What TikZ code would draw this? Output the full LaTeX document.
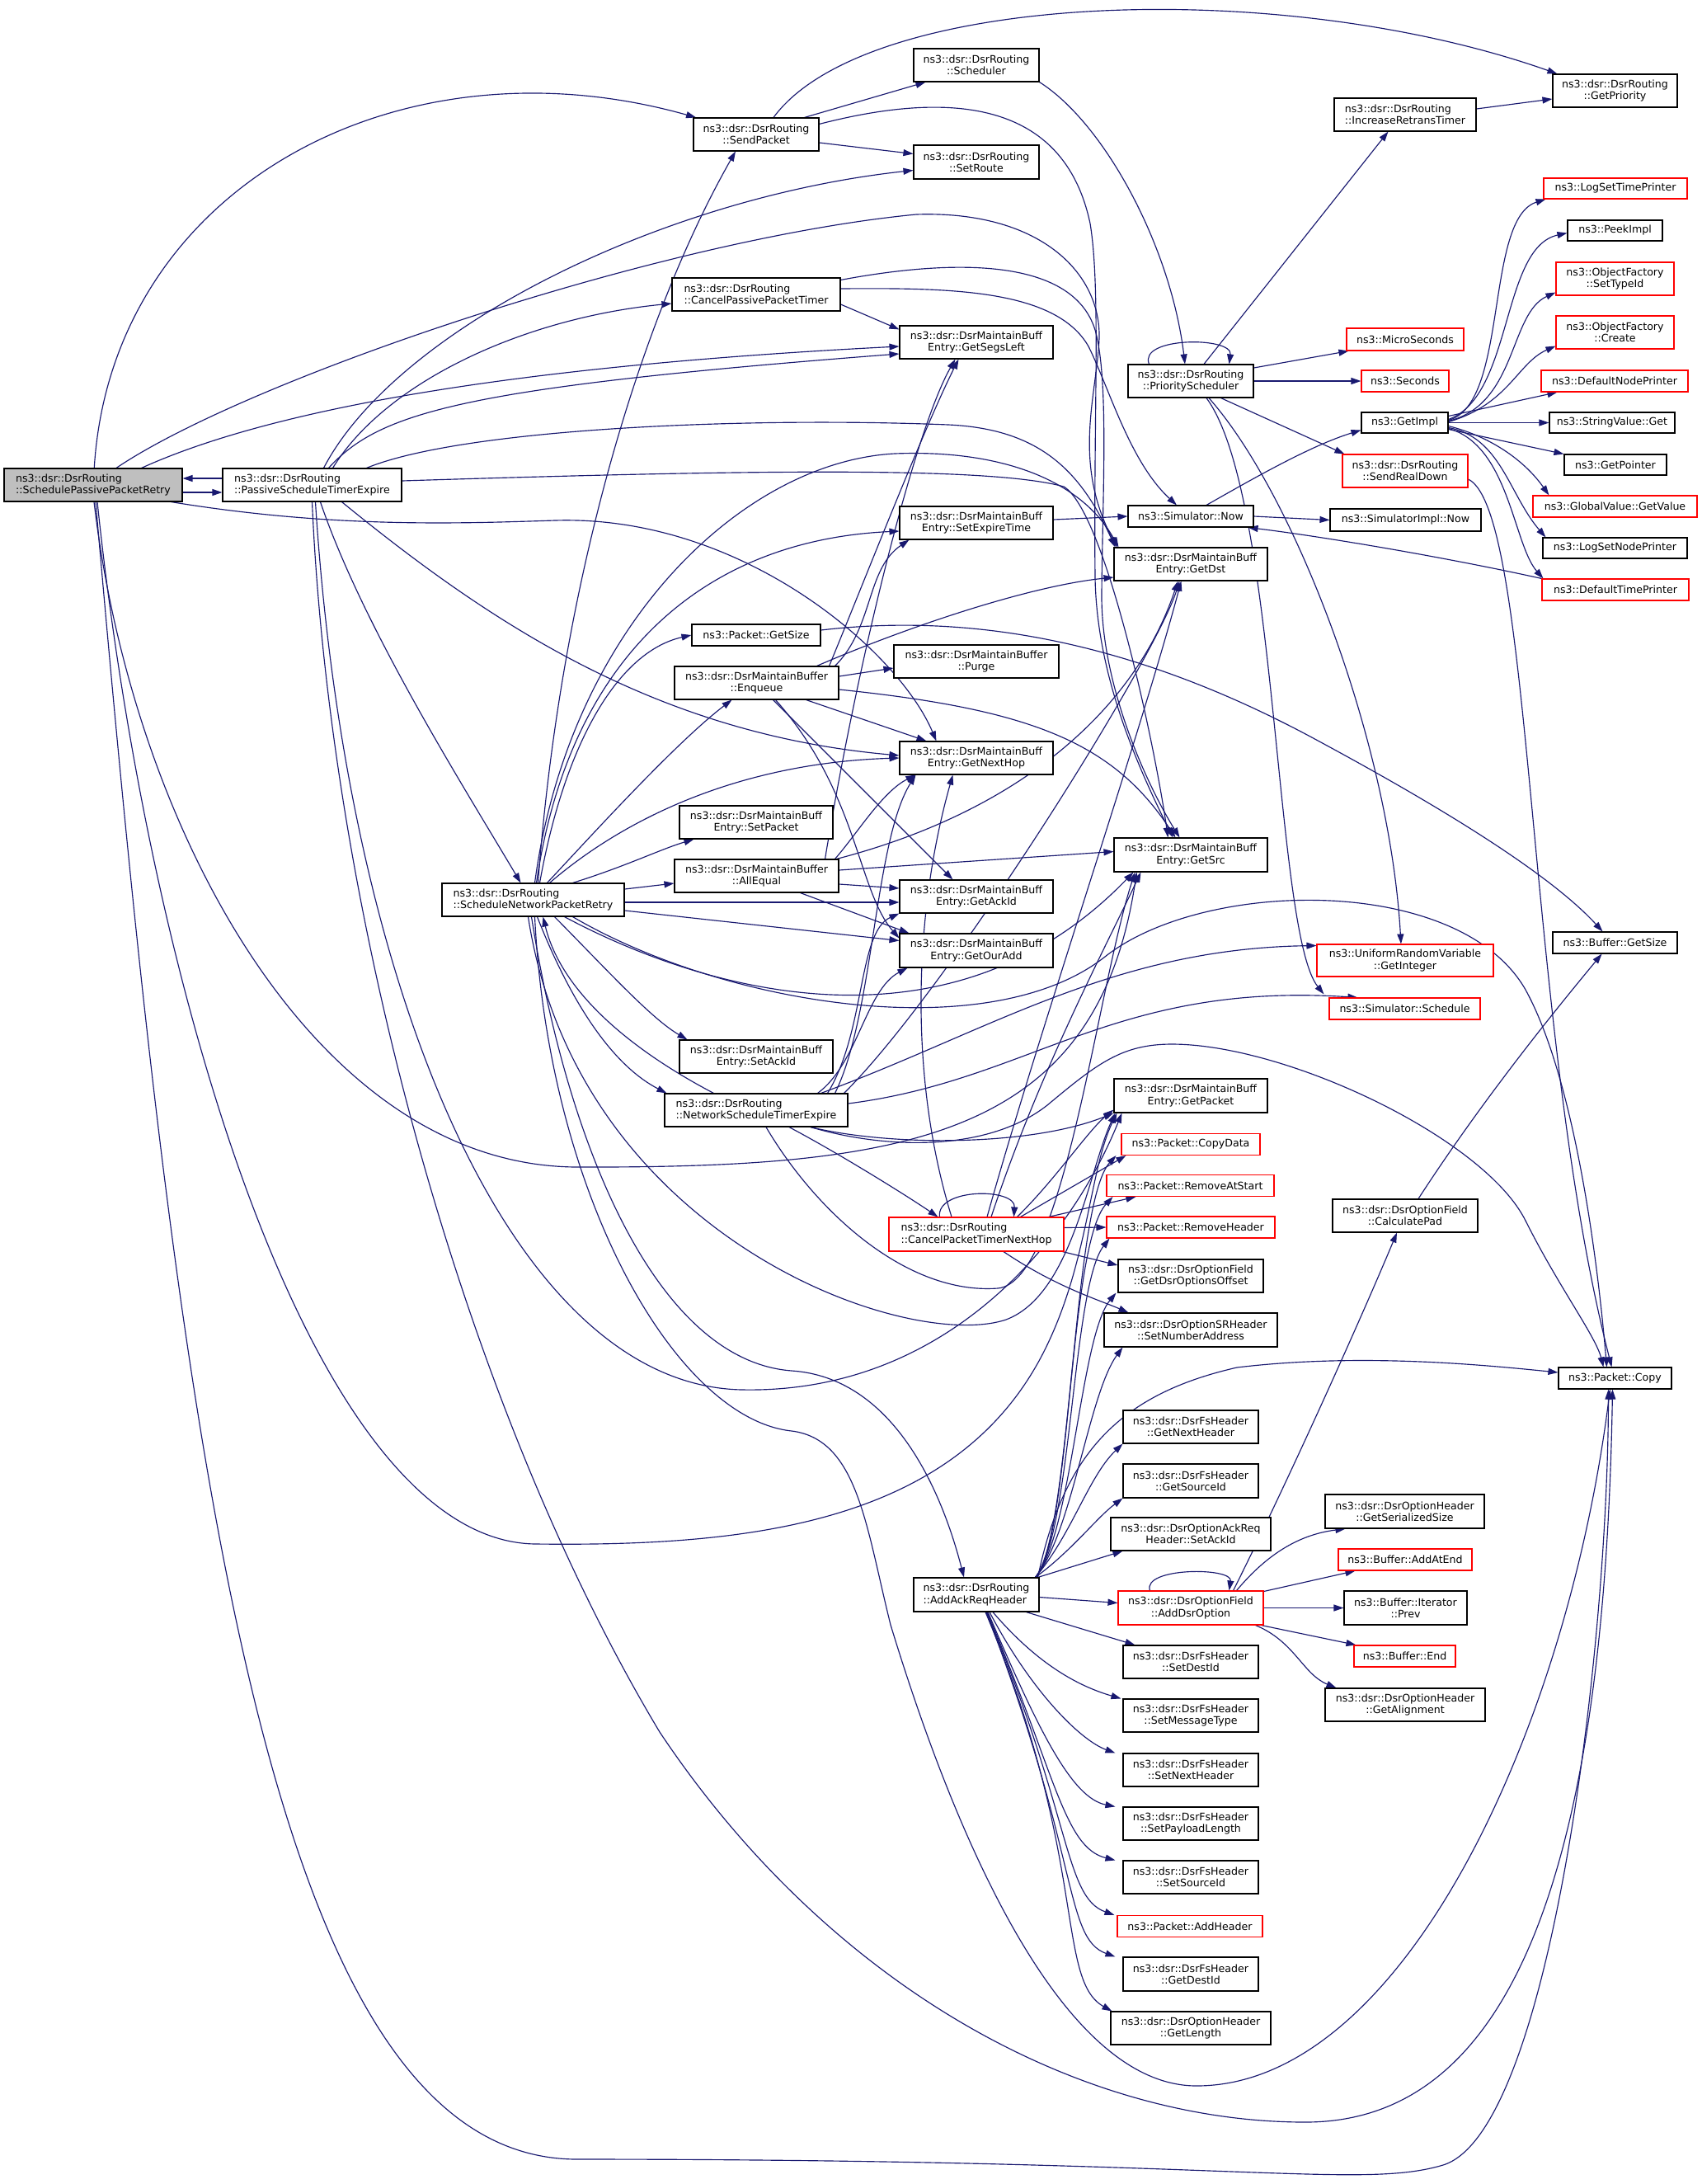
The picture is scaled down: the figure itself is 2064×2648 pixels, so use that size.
\documentclass[tikz,border=0pt]{standalone}
\usepackage{fontspec}
\setmainfont{DejaVu Sans}
\usetikzlibrary{arrows.meta,calc}
\pgfdeclarelayer{back}
\pgfdeclarelayer{bg}
\pgfsetlayers{back,bg,main}
\definecolor{edgec}{HTML}{191970}
\definecolor{rootc}{HTML}{BFBFBF}
\tikzset{
  box/.style={draw=black, line width=1.1pt, fill=white, inner sep=1pt, font=\fontsize{12.6}{14.3}\selectfont, align=center},
  rbox/.style={box, draw=red},
  lbox/.style={box, align=left},
  s/.style 2 args={minimum width=#1pt, minimum height=#2pt},
  e/.style={draw=edgec, line width=1.15pt, -{Triangle[length=12pt,width=8pt]}},
}
\begin{document}
\begin{tikzpicture}[x=1pt,y=-1pt]
\begin{pgfonlayer}{back}
\fill[white] (0,0) rectangle (2064,2648);
\end{pgfonlayer}
\useasboundingbox (0,0) rectangle (2064,2648);
% ---------------- nodes ----------------
\node[lbox,fill=rootc,s={216}{40}] (A) at (113,588) {ns3::dsr::DsrRouting\\::SchedulePassivePacketRetry};
\node[lbox,s={217}{40}] (B) at (378.5,588) {ns3::dsr::DsrRouting\\::PassiveScheduleTimerExpire};
\node[lbox,s={221}{40}] (C) at (646.5,1091) {ns3::dsr::DsrRouting\\::ScheduleNetworkPacketRetry};
\node[box,s={152}{40}] (sp) at (917,163) {ns3::dsr::DsrRouting\\::SendPacket};
\node[lbox,s={204}{40}] (cppt) at (917,357) {ns3::dsr::DsrRouting\\::CancelPassivePacketTimer};
\node[box,s={156}{26}] (pgs) at (917,770) {ns3::Packet::GetSize};
\node[box,s={199}{40}] (enq) at (917.5,828) {ns3::dsr::DsrMaintainBuffer\\::Enqueue};
\node[box,s={186}{40}] (setpkt) at (917,997) {ns3::dsr::DsrMaintainBuff\\Entry::SetPacket};
\node[box,s={199}{40}] (alleq) at (917.5,1062) {ns3::dsr::DsrMaintainBuffer\\::AllEqual};
\node[box,s={186}{40}] (setack) at (917,1281) {ns3::dsr::DsrMaintainBuff\\Entry::SetAckId};
\node[lbox,s={222}{40}] (nste) at (917,1346) {ns3::dsr::DsrRouting\\::NetworkScheduleTimerExpire};
\node[box,s={152}{40}] (sched) at (1184,79) {ns3::dsr::DsrRouting\\::Scheduler};
\node[box,s={152}{41}] (setroute) at (1184,196.5) {ns3::dsr::DsrRouting\\::SetRoute};
\node[box,s={186}{40}] (segs) at (1184,415) {ns3::dsr::DsrMaintainBuff\\Entry::GetSegsLeft};
\node[box,s={186}{40}] (setexp) at (1184,634) {ns3::dsr::DsrMaintainBuff\\Entry::SetExpireTime};
\node[box,s={200}{40}] (purge) at (1184,802) {ns3::dsr::DsrMaintainBuffer\\::Purge};
\node[box,s={186}{40}] (nexthop) at (1184,919) {ns3::dsr::DsrMaintainBuff\\Entry::GetNextHop};
\node[box,s={186}{40}] (getack) at (1184,1087) {ns3::dsr::DsrMaintainBuff\\Entry::GetAckId};
\node[box,s={186}{41}] (ouradd) at (1184,1152.5) {ns3::dsr::DsrMaintainBuff\\Entry::GetOurAdd};
\node[rbox,align=left,s={212}{41}] (cptnh) at (1184,1496.5) {ns3::dsr::DsrRouting\\::CancelPacketTimerNextHop};
\node[lbox,s={152}{41}] (aarh) at (1184,1933.5) {ns3::dsr::DsrRouting\\::AddAckReqHeader};
\node[box,s={152}{40}] (prio) at (1444,462) {ns3::dsr::DsrRouting\\::PriorityScheduler};
\node[box,s={152}{26}] (simnow) at (1444,626) {ns3::Simulator::Now};
\node[box,s={186}{40}] (getdst) at (1444,684) {ns3::dsr::DsrMaintainBuff\\Entry::GetDst};
\node[box,s={186}{41}] (getsrc) at (1444,1036.5) {ns3::dsr::DsrMaintainBuff\\Entry::GetSrc};
\node[box,s={186}{41}] (getpkt) at (1444,1328.5) {ns3::dsr::DsrMaintainBuff\\Entry::GetPacket};
\node[rbox,s={168}{26}] (copydata) at (1444,1387.5) {ns3::Packet::CopyData};
\node[rbox,s={203}{26}] (rmstart) at (1443.5,1437.5) {ns3::Packet::RemoveAtStart};
\node[rbox,s={204}{26}] (rmhdr) at (1444,1488) {ns3::Packet::RemoveHeader};
\node[box,s={176}{40}] (optoff) at (1444,1547) {ns3::dsr::DsrOptionField\\::GetDsrOptionsOffset};
\node[box,s={210}{41}] (setnum) at (1444,1612.5) {ns3::dsr::DsrOptionSRHeader\\::SetNumberAddress};
\node[box,s={164}{40}] (getnh) at (1444,1730) {ns3::dsr::DsrFsHeader\\::GetNextHeader};
\node[box,s={164}{41}] (getsid) at (1444,1795.5) {ns3::dsr::DsrFsHeader\\::GetSourceId};
\node[box,s={194}{40}] (arsetack) at (1444,1860) {ns3::dsr::DsrOptionAckReq\\Header::SetAckId};
\node[rbox,s={176}{41}] (adddsr) at (1444,1949.5) {ns3::dsr::DsrOptionField\\::AddDsrOption};
\node[box,s={164}{40}] (setdid) at (1444,2015) {ns3::dsr::DsrFsHeader\\::SetDestId};
\node[box,s={164}{40}] (setmt) at (1444,2080) {ns3::dsr::DsrFsHeader\\::SetMessageType};
\node[box,s={164}{40}] (setnh) at (1444,2146) {ns3::dsr::DsrFsHeader\\::SetNextHeader};
\node[box,s={164}{40}] (setpl) at (1444,2211) {ns3::dsr::DsrFsHeader\\::SetPayloadLength};
\node[box,s={164}{40}] (setsid) at (1444,2276) {ns3::dsr::DsrFsHeader\\::SetSourceId};
\node[rbox,s={176}{26}] (addhdr) at (1443,2335.5) {ns3::Packet::AddHeader};
\node[box,s={164}{41}] (getdid) at (1444,2393.5) {ns3::dsr::DsrFsHeader\\::GetDestId};
\node[box,s={194}{40}] (getlen) at (1444,2459) {ns3::dsr::DsrOptionHeader\\::GetLength};
\node[lbox,s={172}{40}] (incr) at (1704,139) {ns3::dsr::DsrRouting\\::IncreaseRetransTimer};
\node[rbox,s={142}{27}] (micro) at (1704,411.5) {ns3::MicroSeconds};
\node[rbox,s={106}{26}] (secs) at (1704,462) {ns3::Seconds};
\node[box,s={105}{25}] (getimpl) at (1703.5,512.5) {ns3::GetImpl};
\node[rbox,s={152}{40}] (srd) at (1704,571) {ns3::dsr::DsrRouting\\::SendRealDown};
\node[box,s={183}{27}] (simimplnow) at (1704.5,630.5) {ns3::SimulatorImpl::Now};
\node[rbox,s={214}{39}] (getint) at (1704,1164.5) {ns3::UniformRandomVariable\\::GetInteger};
\node[rbox,s={183}{26}] (simsched) at (1703.5,1223) {ns3::Simulator::Schedule};
\node[box,s={176}{40}] (calcpad) at (1704,1474) {ns3::dsr::DsrOptionField\\::CalculatePad};
\node[box,s={193}{41}] (getser) at (1703.5,1832.5) {ns3::dsr::DsrOptionHeader\\::GetSerializedSize};
\node[rbox,s={162}{26}] (addatend) at (1704,1891) {ns3::Buffer::AddAtEnd};
\node[box,s={149}{41}] (prev) at (1704.5,1949.5) {ns3::Buffer::Iterator\\::Prev};
\node[rbox,s={123}{26}] (bufend) at (1703.5,2008) {ns3::Buffer::End};
\node[box,s={194}{40}] (getalign) at (1704,2067) {ns3::dsr::DsrOptionHeader\\::GetAlignment};
\node[box,s={151}{40}] (getprio) at (1958.5,110) {ns3::dsr::DsrRouting\\::GetPriority};
\node[rbox,s={174}{25}] (lstp) at (1959,228.5) {ns3::LogSetTimePrinter};
\node[box,s={115}{25}] (peek) at (1958.5,279.5) {ns3::PeekImpl};
\node[rbox,s={143}{40}] (settid) at (1958.5,338) {ns3::ObjectFactory\\::SetTypeId};
\node[rbox,s={143}{40}] (create) at (1958.5,403) {ns3::ObjectFactory\\::Create};
\node[rbox,s={178}{26}] (dnp) at (1958,462) {ns3::DefaultNodePrinter};
\node[box,s={152}{25}] (svget) at (1955,512.5) {ns3::StringValue::Get};
\node[box,s={124}{25}] (getptr) at (1959,563.5) {ns3::GetPointer};
\node[rbox,s={199}{26}] (gvget) at (1958.5,614) {ns3::GlobalValue::GetValue};
\node[box,s={175}{25}] (lsnp) at (1958.5,664.5) {ns3::LogSetNodePrinter};
\node[rbox,s={178}{26}] (dtp) at (1959,715) {ns3::DefaultTimePrinter};
\node[box,s={151}{26}] (bufgs) at (1958.5,1143) {ns3::Buffer::GetSize};
\node[box,s={137}{26}] (copy) at (1958.5,1671) {ns3::Packet::Copy};
% ---------------- edges ----------------
\begin{pgfonlayer}{bg}
% SchedulePassivePacketRetry
\draw[e] (A) .. controls (135,230) and (480,40) .. (sp);
\draw[e] ([yshift=-9pt]A.east) -- ([yshift=-9pt]B.west);
\draw[e] ([yshift=8pt]B.west) -- ([yshift=8pt]A.east);
\draw[e] ([xshift=28pt]A.north) .. controls (300,460) and (800,290) .. (1111,260) .. controls (1260,255) and (1335,330) .. (1333,410) .. controls (1330,480) and (1300,560) .. ($(getdst.north west)+(4,0)$);
\draw[e] ([xshift=-50pt]A.north east) .. controls (320,500) and (600,445) .. ([yshift=-5pt]segs.west);
\draw[e] ([xshift=-14pt]A.south east) .. controls (400,640) and (550,635) .. (673,631) .. controls (900,624) and (1090,790) .. ($(nexthop.north west)+(45,0)$);
\draw[e] ([xshift=3pt]A.south) .. controls (220,1800) and (330,2618) .. (700,2618) .. controls (1500,2618) and (1650,2655) .. (1750,2625) .. controls (1880,2585) and (1950,2000) .. ([xshift=-8pt]copy.south);
\draw[e] ([xshift=5pt]A.south) .. controls (180,1200) and (380,1870) .. (650,1872) .. controls (900,1875) and (1150,1850) .. (1260,1650) .. controls (1320,1540) and (1320,1420) .. ($(getpkt.south west)+(4,0)$);
\draw[e] ([xshift=1pt]A.south) .. controls (160,1000) and (380,1414) .. (700,1415) .. controls (1100,1416) and (1330,1380) .. ($(getsrc.south west)+(28,0)$);
% PassiveScheduleTimerExpire
\draw[e] ([xshift=14pt]B.north) .. controls (480,400) and (800,240) .. ([yshift=-10pt]setroute.west);
\draw[e] ([xshift=25pt]B.north) .. controls (470,460) and (640,385) .. ([yshift=-11pt]cppt.west);
\draw[e] ([xshift=20pt]B.north) .. controls (460,500) and (560,470) .. ([yshift=-14pt]segs.west);
\draw[e] ([xshift=66pt]B.north) .. controls (560,520) and (900,505) .. (1150,515) .. controls (1260,520) and (1310,570) .. ($(getdst.north west)+(2,0)$);
\draw[e] ([yshift=5pt]B.east) .. controls (900,570) and (1200,565) .. (1290,590) .. controls (1340,620) and (1400,900) .. ($(getsrc.north west)+(66,0)$);
\draw[e] ([xshift=36pt]B.south) .. controls (600,760) and (800,890) .. ([yshift=3pt]nexthop.west);
\draw[e] ([xshift=10pt]B.south) .. controls (440,760) and (560,950) .. ([xshift=-15pt]C.north);
\draw[e] (B.south) .. controls (400,1100) and (560,1700) .. (800,2100) .. controls (1000,2400) and (1300,2573) .. (1583,2573) .. controls (1820,2573) and (1945,2300) .. ([xshift=-3pt]copy.south);
\draw[e] ([xshift=4pt]B.south) .. controls (420,1200) and (620,1680) .. (900,1685) .. controls (1150,1690) and (1300,1500) .. ($(getpkt.south west)+(10,0)$);
% ScheduleNetworkPacketRetry
\draw[e] ([xshift=6pt]C.north) .. controls (680,700) and (780,380) .. ([xshift=-25pt]sp.south);
\draw[e] ([xshift=8pt]C.north) .. controls (685,900) and (750,790) .. (pgs.west);
\draw[e] ([xshift=17pt]C.north) .. controls (720,1010) and (820,900) .. ([xshift=-30pt]enq.south);
\draw[e] ([xshift=20pt]C.north) .. controls (760,990) and (900,925) .. (nexthop.west);
\draw[e] ([xshift=48pt]C.north) .. controls (760,1050) and (800,1030) .. ($(setpkt.south west)+(18,0)$);
\draw[e] ([yshift=13pt]C.east) -- ([yshift=-9pt]alleq.west);
\draw[e] ([yshift=-3pt]C.east) -- ([yshift=-7pt]getack.west);
\draw[e] ([yshift=-13pt]C.east) -- ([yshift=12pt]ouradd.west);
\draw[e] ([xshift=26pt]C.south) .. controls (740,1180) and (790,1235) .. ($(setack.north west)+(10,0)$);
\draw[e] ([xshift=5pt]C.south) .. controls (690,1210) and (740,1290) .. ($(nste.north west)+(3,0)$);
\draw[e] ([xshift=4pt]C.north) .. controls (690,800) and (850,655) .. ([yshift=-10pt]setexp.west);
\draw[e] ([xshift=2pt]C.north) .. controls (690,760) and (900,560) .. (1085,550) .. controls (1210,545) and (1310,580) .. ($(getdst.north west)+(6,0)$);
\draw[e] ([xshift=38pt]C.south) .. controls (850,1200) and (1150,1290) .. ($(getsrc.south west)+(24,0)$);
\draw[e] ([xshift=48pt]C.south) .. controls (880,1220) and (1200,1270) .. (1340,1160) .. controls (1460,1065) and (1770,1060) .. (1850,1200) .. controls (1905,1300) and (1935,1500) .. ([xshift=-10pt]copy.north);
\draw[e] ([xshift=2pt]C.south) .. controls (665,1450) and (820,1720) .. (960,1735) .. controls (1040,1745) and (1050,1850) .. (1080,1970) .. controls (1150,2200) and (1280,2529) .. (1451,2529) .. controls (1700,2529) and (1900,2100) .. ([xshift=-6pt]copy.south);
\draw[e] ([xshift=-2pt]C.south) .. controls (690,1400) and (800,1650) .. (960,1662) .. controls (1080,1670) and (1140,1800) .. ([xshift=-15pt]aarh.north);
\draw[e] ([xshift=-6pt]C.south) .. controls (700,1500) and (1100,1640) .. (1220,1600) .. controls (1300,1570) and (1320,1420) .. ($(getpkt.south west)+(2,0)$);
% NetworkScheduleTimerExpire
\draw[e] ($(nste.north west)+(60,0)$) .. controls (760,1270) and (680,1200) .. ([xshift=12pt]C.south);
\draw[e] ([xshift=40pt]nste.south) .. controls (1020,1400) and (1100,1450) .. ($(cptnh.north west)+(60,0)$);
\draw[e] ([xshift=66pt]nste.south) .. controls (1080,1390) and (1250,1390) .. (getpkt.south west);
\draw[e] ([xshift=66pt]nste.south) .. controls (1080,1395) and (1200,1395) .. (1270,1340) .. controls (1330,1290) and (1360,1266) .. (1421,1266) .. controls (1560,1266) and (1800,1380) .. (1850,1480) .. controls (1890,1560) and (1935,1620) .. ([xshift=-14pt]copy.north);
\draw[e] ($(nste.north east)+(-33,0)$) .. controls (1200,1250) and (1350,1150) .. ([yshift=18pt]getint.west);
\draw[e] ([yshift=8pt]nste.east) .. controls (1250,1310) and (1350,1190) .. ($(simsched.north west)+(35,0)$);
\draw[e] ([xshift=-16pt]nste.north east) .. controls (1060,1230) and (1060,1020) .. ($(nexthop.south west)+(20,0)$);
\draw[e] ([xshift=-37pt]nste.north east) .. controls (1040,1290) and (1050,1200) .. ($(ouradd.south west)+(10,0)$);
\draw[e] ([xshift=-25pt]nste.north east) .. controls (1050,1250) and (1040,1130) .. (getack.south west);
\draw[e] ([xshift=12pt]nste.south) .. controls (990,1470) and (1100,1570) .. (1210,1562) .. controls (1290,1555) and (1330,1200) .. ($(getsrc.south west)+(26,0)$);
\draw[e] ([xshift=-5pt]nste.north east) .. controls (1150,1200) and (1400,800) .. ($(getdst.south west)+(80,0)$);
% CancelPacketTimerNextHop
\draw[e] ($(cptnh.north west)+(62,0)$) .. controls (1135,1440) and (1232,1440) .. ($(cptnh.north west)+(152,0)$);
\draw[e] ($(cptnh.north west)+(156,0)$) .. controls (1280,1430) and (1320,1370) .. ([yshift=4pt]getpkt.south west);
\draw[e] ($(cptnh.north west)+(160,0)$) -- ($(copydata.south west)+(6,0)$);
\draw[e] ($(cptnh.north east)+(-19,0)$) -- ($(rmstart.south west)+(36,0)$);
\draw[e] ([yshift=8pt]cptnh.east) -- (rmhdr.west);
\draw[e] ($(cptnh.south east)+(-2,0)$) -- ([yshift=13pt]optoff.west);
\draw[e] ($(cptnh.south)+(33,0)$) .. controls (1280,1560) and (1330,1575) .. ($(setnum.north west)+(30,0)$);
\draw[e] ($(cptnh.north)+(13,0)$) .. controls (1260,1250) and (1380,900) .. ($(getdst.south west)+(82,0)$);
\draw[e] ($(cptnh.north)+(18,0)$) .. controls (1260,1300) and (1340,1150) .. ($(getsrc.south west)+(33,0)$);
\draw[e] ($(cptnh.north)+(-30,0)$) .. controls (1100,1300) and (1110,1100) .. ($(nexthop.south west)+(65,0)$);
% Enqueue
\draw[e] ([yshift=8pt]enq.east) -- ([yshift=-8pt]purge.west);
\draw[e] ($(enq.north east)+(-5,0)$) .. controls (1060,760) and (1050,690) .. ($(setexp.south west)+(12,0)$);
\draw[e] ($(enq.north east)+(-27,0)$) .. controls (1100,760) and (1250,710) .. ([yshift=-16pt]getdst.west);
\draw[e] ($(enq.south east)+(-40,0)$) -- ($(nexthop.north west)+(33,0)$);
\draw[e] ([yshift=-8pt]enq.east) .. controls (1250,860) and (1350,900) .. ($(getsrc.north west)+(75,0)$);
\draw[e] ($(enq.south)+(20,0)$) -- ($(getack.north west)+(65,0)$);
\draw[e] ($(enq.south)+(23,0)$) .. controls (1040,960) and (1040,1080) .. ([yshift=15pt]ouradd.west);
\draw[e] ($(enq.north east)+(-12,0)$) .. controls (1050,700) and (1120,520) .. ($(segs.south west)+(72,0)$);
% AllEqual
\draw[e] ([yshift=7pt]alleq.east) -- ([yshift=4pt]getsrc.west);
\draw[e] ([yshift=-10pt]alleq.east) -- ([yshift=10pt]getack.west);
\draw[e] ($(alleq.south east)+(-47,0)$) -- ($(ouradd.north west)+(12,0)$);
\draw[e] ($(alleq.north east)+(-5,0)$) .. controls (1040,1010) and (1070,960) .. ($(nexthop.south west)+(20,0)$);
\draw[e] ($(alleq.north east)+(-3,0)$) .. controls (1250,980) and (1380,850) .. ($(getdst.south west)+(78,0)$);
\draw[e] ($(alleq.north east)+(-17,0)$) .. controls (1040,800) and (1110,520) .. ($(segs.south west)+(68,0)$);
% CancelPassivePacketTimer
\draw[e] ([yshift=-12pt]cppt.east) -- ($(segs.north west)+(0,5)$);
\draw[e] ([yshift=7pt]cppt.east) .. controls (1150,349) and (1280,350) .. (1320,420) .. controls (1345,470) and (1370,560) .. ($(simnow.north)+(-17,0)$);
\draw[e] ($(cppt.north east)+(0,3)$) .. controls (1150,315) and (1300,310) .. (1328,400) .. controls (1345,460) and (1337,600) .. (1336,720) .. controls (1335,830) and (1390,950) .. ($(getsrc.north west)+(80,0)$);
% SendPacket
\draw[e] ($(sp.north east)+(-18,0)$) -- ($(sched.south west)+(15,0)$);
\draw[e] ($(sp.north)+(21,0)$) .. controls (1050,-10) and (1550,-30) .. ($(getprio.north west)+(6,0)$);
\draw[e] ([yshift=-10pt]sp.east) -- ([yshift=10pt]setroute.west);
\draw[e] ($(sp.north east)+(0,8)$) .. controls (1150,110) and (1290,120) .. (1322,271) .. controls (1335,350) and (1326,500) .. (1328,700) .. controls (1330,820) and (1380,930) .. ($(getsrc.north west)+(72,0)$);
% Scheduler
\draw[e] (sched.south east) .. controls (1340,150) and (1420,300) .. ($(prio.north)+(-7,0)$);
% PriorityScheduler
\draw[e] ($(prio.north west)+(26,0)$) .. controls (1380,408) and (1495,408) .. ($(prio.north east)+(-30,0)$);
\draw[e] ($(prio.north)+(16,0)$) -- ($(incr.south west)+(66,0)$);
\draw[e] ([yshift=16pt]prio.east) -- ($(micro.south west)+(3,0)$);
\draw[e] (prio.east) -- (secs.west);
\draw[e] ($(prio.south east)+(-40,0)$) -- ($(srd.north west)+(3,0)$);
\draw[e] ($(prio.south)+(22,0)$) .. controls (1570,600) and (1685,900) .. ($(getint.north)+(-5,0)$);
\draw[e] ($(prio.south)+(19,0)$) .. controls (1550,600) and (1545,1130) .. ($(simsched.north west)+(-6,-4)$);
% IncreaseRetransTimer
\draw[e] ([yshift=7pt]incr.east) -- ([yshift=-10pt]getprio.west);
% SetExpireTime
\draw[e] ([yshift=4pt]setexp.east) -- (simnow.west);
% Simulator::Now
\draw[e] ($(simnow.north)+(19,0)$) .. controls (1520,580) and (1590,540) .. ([yshift=-9pt]getimpl.west);
\draw[e] (simnow.east) -- (simimplnow.west);
\draw[e] (dtp.north west) .. controls (1750,675) and (1600,650) .. ($(simnow.south east)+(-7,0)$);
% GetImpl
\draw[e] ([yshift=3pt]getimpl.east) .. controls (1830,490) and (1800,265) .. ($(lstp.south west)+(3,0)$);
\draw[e] ([yshift=4pt]getimpl.east) .. controls (1835,480) and (1820,300) .. ([yshift=-3pt]peek.west);
\draw[e] ([yshift=2pt]getimpl.east) .. controls (1840,490) and (1830,380) .. ($(settid.south west)+(0,-4)$);
\draw[e] ([yshift=1pt]getimpl.east) .. controls (1830,490) and (1840,440) .. ($(create.south west)+(0,-4)$);
\draw[e] ([yshift=8pt]getimpl.east) -- ($(dnp.south west)+(20,0)$);
\draw[e] (getimpl.east) -- (svget.west);
\draw[e] ([yshift=-8pt]getimpl.east) -- (getptr.north west);
\draw[e] ([yshift=-4pt]getimpl.east) .. controls (1810,530) and (1850,560) .. ($(gvget.north west)+(20,0)$);
\draw[e] ([yshift=-6pt]getimpl.east) .. controls (1820,530) and (1830,600) .. ($(lsnp.north west)+(4,0)$);
\draw[e] ([yshift=-7pt]getimpl.east) .. controls (1830,540) and (1835,660) .. ($(dtp.north west)+(2,0)$);
% SendRealDown
\draw[e] ([yshift=-10pt]srd.east) .. controls (1860,620) and (1850,1250) .. ($(copy.north)+(-4,0)$);
% Packet::GetSize
\draw[e] ([yshift=6pt]pgs.east) .. controls (1200,740) and (1400,790) .. (1600,899) .. controls (1750,980) and (1880,1060) .. ($(bufgs.north)+(-15,0)$);
% CalculatePad
\draw[e] ($(calcpad.north)+(16,0)$) .. controls (1800,1330) and (1890,1220) .. ($(bufgs.south)+(-16,0)$);
% AddDsrOption
\draw[e] ($(adddsr.north west)+(39,0)$) .. controls (1385,1900) and (1495,1900) .. ($(adddsr.north east)+(-42,0)$);
\draw[e] ($(adddsr.north east)+(-37,0)$) .. controls (1560,1800) and (1650,1600) .. ($(calcpad.south)+(-10,0)$);
\draw[e] ($(adddsr.north east)+(-33,0)$) .. controls (1540,1880) and (1580,1860) .. ($(getser.south west)+(25,0)$);
\draw[e] ([yshift=20pt]adddsr.east) -- ($(addatend.south west)+(21,0)$);
\draw[e] (adddsr.east) -- (prev.west);
\draw[e] ($(adddsr.south east)+(-3,0)$) -- ($(bufend.north west)+(3,0)$);
\draw[e] ($(adddsr.south east)+(-10,0)$) .. controls (1570,1990) and (1580,2030) .. ($(getalign.north west)+(14,0)$);
% AddAckReqHeader
\draw[e] ($(aarh.north east)+(-2,0)$) .. controls (1290,1760) and (1360,1690) .. (1500,1658) .. controls (1650,1640) and (1800,1655) .. ([yshift=7pt]copy.west);
\draw[e] ([yshift=-3pt]aarh.east) -- ([yshift=6pt]adddsr.west);
\draw[e] ($(aarh.north east)+(-5,0)$) .. controls (1300,1860) and (1300,1460) .. ($(copydata.south west)+(-6,0)$);
\draw[e] ($(aarh.north east)+(-5,0)$) .. controls (1300,1860) and (1295,1510) .. ($(rmstart.south west)+(8,0)$);
\draw[e] ($(aarh.north east)+(-5,0)$) .. controls (1300,1860) and (1300,1560) .. ($(rmhdr.south west)+(4,0)$);
\draw[e] ($(aarh.north east)+(-5,0)$) .. controls (1300,1860) and (1310,1620) .. ($(optoff.south west)+(-2,0)$);
\draw[e] ($(aarh.north east)+(-5,0)$) .. controls (1300,1860) and (1320,1690) .. ($(setnum.south west)+(23,0)$);
\draw[e] ($(aarh.north east)+(-5,0)$) .. controls (1300,1860) and (1320,1790) .. (getnh.south west);
\draw[e] ($(aarh.north east)+(-5,0)$) .. controls (1300,1880) and (1330,1840) .. (getsid.south west);
\draw[e] ($(aarh.north east)+(-2,0)$) -- ($(arsetack.south west)+(15,0)$);
\draw[e] ($(aarh.south east)+(-16,0)$) -- ($(setdid.north west)+(15,0)$);
\draw[e] ($(aarh.south)+(20,0)$) .. controls (1260,2020) and (1310,2045) .. ($(setmt.north west)+(-2,0)$);
\draw[e] ($(aarh.south)+(16,0)$) .. controls (1250,2050) and (1310,2110) .. ($(setnh.north west)+(-9,0)$);
\draw[e] ($(aarh.south)+(14,0)$) .. controls (1260,2100) and (1300,2180) .. ($(setpl.north west)+(-9,0)$);
\draw[e] ($(aarh.south)+(13,0)$) .. controls (1280,2150) and (1290,2240) .. ($(setsid.north west)+(-9,0)$);
\draw[e] ($(aarh.south)+(12,0)$) .. controls (1300,2200) and (1290,2300) .. ($(addhdr.north west)+(-3,0)$);
\draw[e] ($(aarh.south)+(12,0)$) .. controls (1310,2250) and (1290,2350) .. ($(getdid.north west)+(-9,0)$);
\draw[e] ($(aarh.south)+(11,0)$) .. controls (1320,2250) and (1280,2400) .. ($(getlen.north west)+(2,0)$);
\end{pgfonlayer}
\end{tikzpicture}
\end{document}
